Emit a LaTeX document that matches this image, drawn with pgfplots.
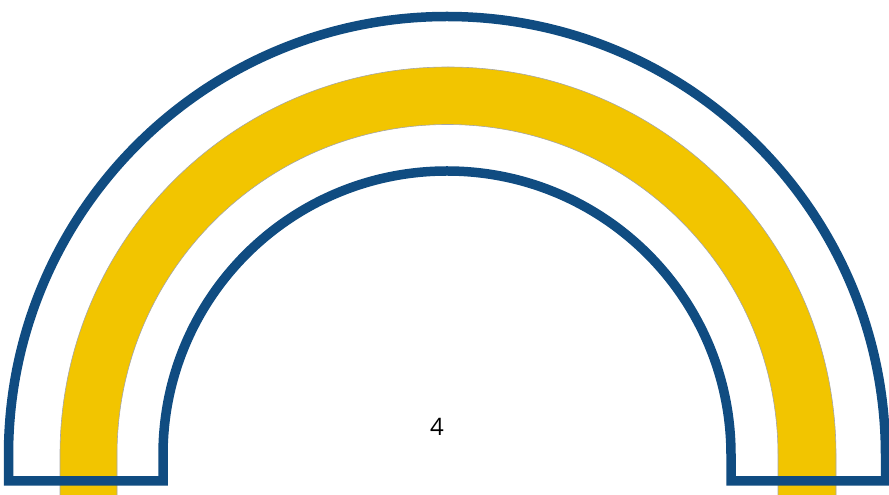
\documentclass[border=0pt]{standalone}
\usepackage{pgfplots}
\pgfplotsset{compat=1.18}
\usepackage{fontspec}
\setmainfont{Open Sans}
\definecolor{gaugeblue}{RGB}{16,76,129}
\definecolor{gaugeyellow}{RGB}{242,197,0}

\begin{document}
\begin{tikzpicture}
\begin{axis}[
    scale only axis,
    width=889pt,
    height=495pt,
    xmin=0, xmax=889,
    ymin=0, ymax=495,
    axis lines=none,
    clip=true
]
% keep the full frame as bounding box
\path (axis cs:0,0) rectangle (axis cs:889,495);

% yellow band (value range)
\filldraw[fill=gaugeyellow, draw=gray!70, line width=0.6pt]
    (axis cs:60,-10) -- (axis cs:60,40) arc[start angle=180, end angle=0, radius=388]
    -- (axis cs:836,-10) -- (axis cs:778,-10) -- (axis cs:778,40)
    arc[start angle=0, end angle=180, radius=330.5] -- (axis cs:117,-10) -- cycle;

% blue outline of the gauge
\draw[gaugeblue, line width=9.5pt, line join=miter]
    (axis cs:8.5,14) -- (axis cs:8.5,40) arc[start angle=180, end angle=0, radius=438.5]
    -- (axis cs:885.5,14) -- (axis cs:731,14) -- (axis cs:731,40)
    arc[start angle=0, end angle=180, radius=284] -- (axis cs:163,14) -- cycle;

\node[font=\fontsize{24}{28}\selectfont] at (axis cs:437,68) {4};
\end{axis}
\end{tikzpicture}
\end{document}
